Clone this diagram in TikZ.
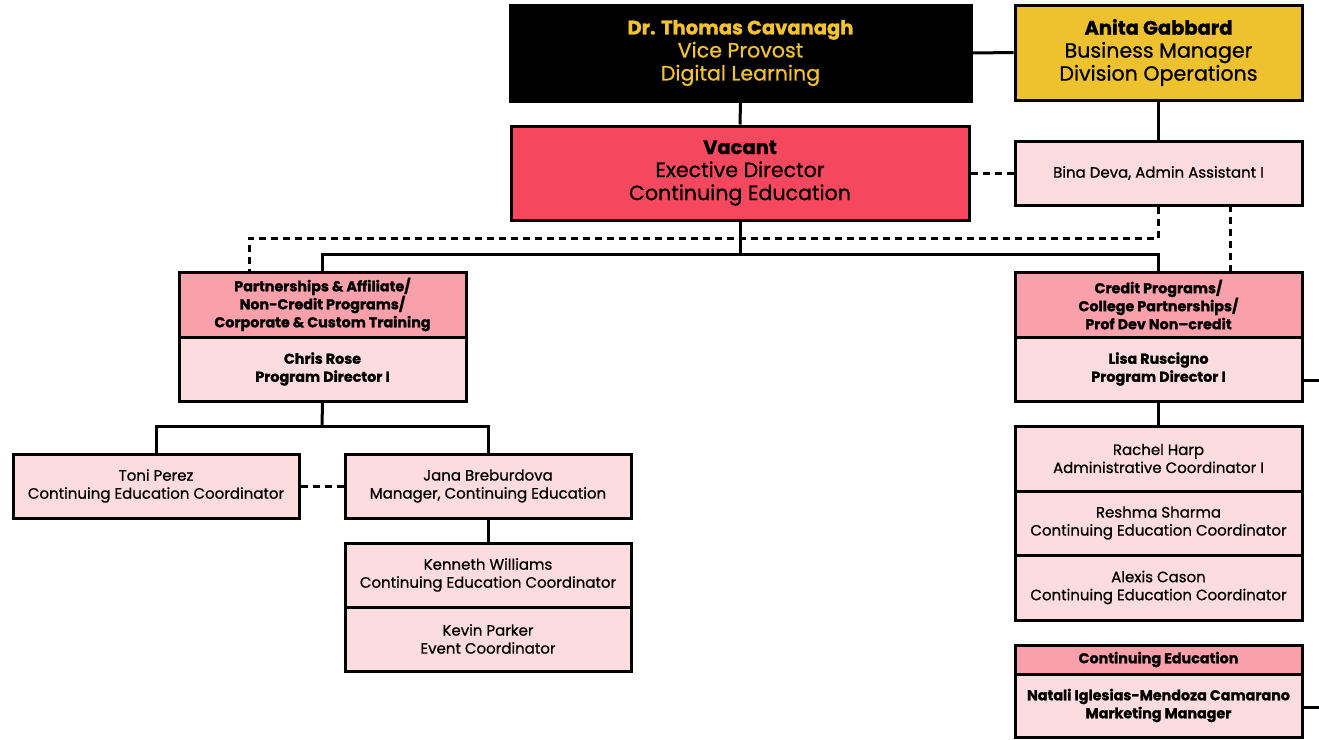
\documentclass[tikz,border=0pt]{standalone}
\usepackage{fontspec}
\setmainfont{Poppins}
\newfontfamily\medfont{Poppins}[FakeBold=0.8, BoldFeatures={FakeBold=1.2}]
\definecolor{gold}{HTML}{EEC12E}
\definecolor{ytext}{HTML}{F2C230}
\definecolor{redbox}{HTML}{F5475E}
\definecolor{pinkhead}{HTML}{F9A0AA}
\definecolor{pinklight}{HTML}{FDDCE0}
\tikzset{
  box/.style={draw=black, line width=3pt, align=center, inner sep=0pt, text=black},
  big/.style={box, minimum width=460pt, minimum height=95pt, font=\medfont\fontsize{20.6}{23}\selectfont},
  side/.style={box, minimum width=287pt, font=\medfont\fontsize{20.6}{23}\selectfont},
  small/.style={box, fill=pinklight, minimum width=287pt, minimum height=64pt, font=\medfont\fontsize{15}{18}\selectfont},
  head/.style={box, fill=pinkhead, minimum width=287pt, minimum height=65pt, font=\medfont\bfseries\fontsize{14.3}{18}\selectfont},
  bodyb/.style={box, fill=pinklight, minimum width=287pt, minimum height=64pt, font=\medfont\bfseries\fontsize{14.3}{18}\selectfont},
  conn/.style={line width=3pt, draw=black},
  dashline/.style={line width=3pt, draw=black, dash pattern=on 7pt off 5pt},
}
\begin{document}
\begin{tikzpicture}[x=1pt,y=-1pt]
\useasboundingbox (0,0) rectangle (1319,739);
% top row
\node[big, fill=black, text=ytext, minimum width=461pt, minimum height=96pt] (cav) at (740.5,53) {{\bfseries\fontsize{19.5}{23}\selectfont Dr. Thomas Cavanagh}\\Vice Provost\\Digital Learning};
\node[side, fill=gold, minimum height=95pt] (gab) at (1158.5,52.5) {{\bfseries\fontsize{19.5}{23}\selectfont Anita Gabbard}\\Business Manager\\Division Operations};
\node[big, fill=redbox, minimum width=458pt, minimum height=94pt] (vac) at (740,173) {{\bfseries\fontsize{19.5}{23}\selectfont Vacant}\\Exective Director\\Continuing Education};
\node[small, minimum height=64pt] (bina) at (1158.5,173) {Bina Deva, Admin Assistant I};
% second level
\node[head] (lhead) at (322.5,304.5) {Partnerships \& Affiliate/\\Non-Credit Programs/\\Corporate \& Custom Training};
\node[bodyb] (lbody) at (322.5,369) {Chris Rose\\Program Director I};
\node[head] (rhead) at (1158.5,304.5) {Credit Programs/\\College Partnerships/\\Prof Dev Non\textendash credit};
\node[bodyb] (rbody) at (1158.5,369) {Lisa Ruscigno\\Program Director I};
% left subtree
\node[small, minimum width=286pt] (toni) at (156,486) {Toni Perez\\Continuing Education Coordinator};
\node[small, minimum width=286pt] (jana) at (488,486) {Jana Breburdova\\Manager, Continuing Education};
\node[small, minimum width=286pt] (ken) at (488,575) {Kenneth Williams\\Continuing Education Coordinator};
\node[small, minimum width=286pt] (kev) at (488,639) {Kevin Parker\\Event Coordinator};
% right subtree
\node[small, minimum height=65pt] (rach) at (1158.5,458.5) {Rachel Harp\\Administrative Coordinator I};
\node[small] (resh) at (1158.5,523) {Reshma Sharma\\Continuing Education Coordinator};
\node[small, minimum height=65pt] (alex) at (1158.5,587.5) {Alexis Cason\\Continuing Education Coordinator};
\node[head, minimum height=29pt] (cehead) at (1158.5,659.5) {Continuing Education};
\node[bodyb, minimum height=63pt] (nat) at (1158.5,705.5) {Natali Iglesias-Mendoza Camarano\\Marketing Manager};
% connectors
\draw[conn] (cav.east) -- (gab.west);
\draw[conn] (cav.south) -- (vac.north);
\draw[conn] (gab.south) -- (bina.north);
\draw[dashline] (vac.east) -- (bina.west);
\coordinate (bus) at (740,254);
\draw[conn] (vac.south) -- (bus);
\draw[conn] (lhead.north) |- (bus) -| (rhead.north);
\coordinate (dl) at (249,238);
\draw[dashline] (bina.south) |- (dl) -- (dl |- lhead.north);
\coordinate (dr) at (1230,205);
\draw[dashline] (dr) -- (dr |- rhead.north);
\coordinate (lbus) at (322,426);
\draw[conn] (lbody.south) -- (lbus);
\draw[conn] (toni.north) |- (lbus) -| (jana.north);
\draw[dashline] (toni.east) -- (jana.west);
\draw[conn] (jana.south) -- (ken.north);
\draw[conn] (rbody.south) -- (rach.north);
\coordinate (e1) at (1319,380);
\draw[conn] (rbody.east |- e1) -- (e1);
\coordinate (e2) at (1319,707);
\draw[conn] (nat.east |- e2) -- (e2);
\end{tikzpicture}
\end{document}
